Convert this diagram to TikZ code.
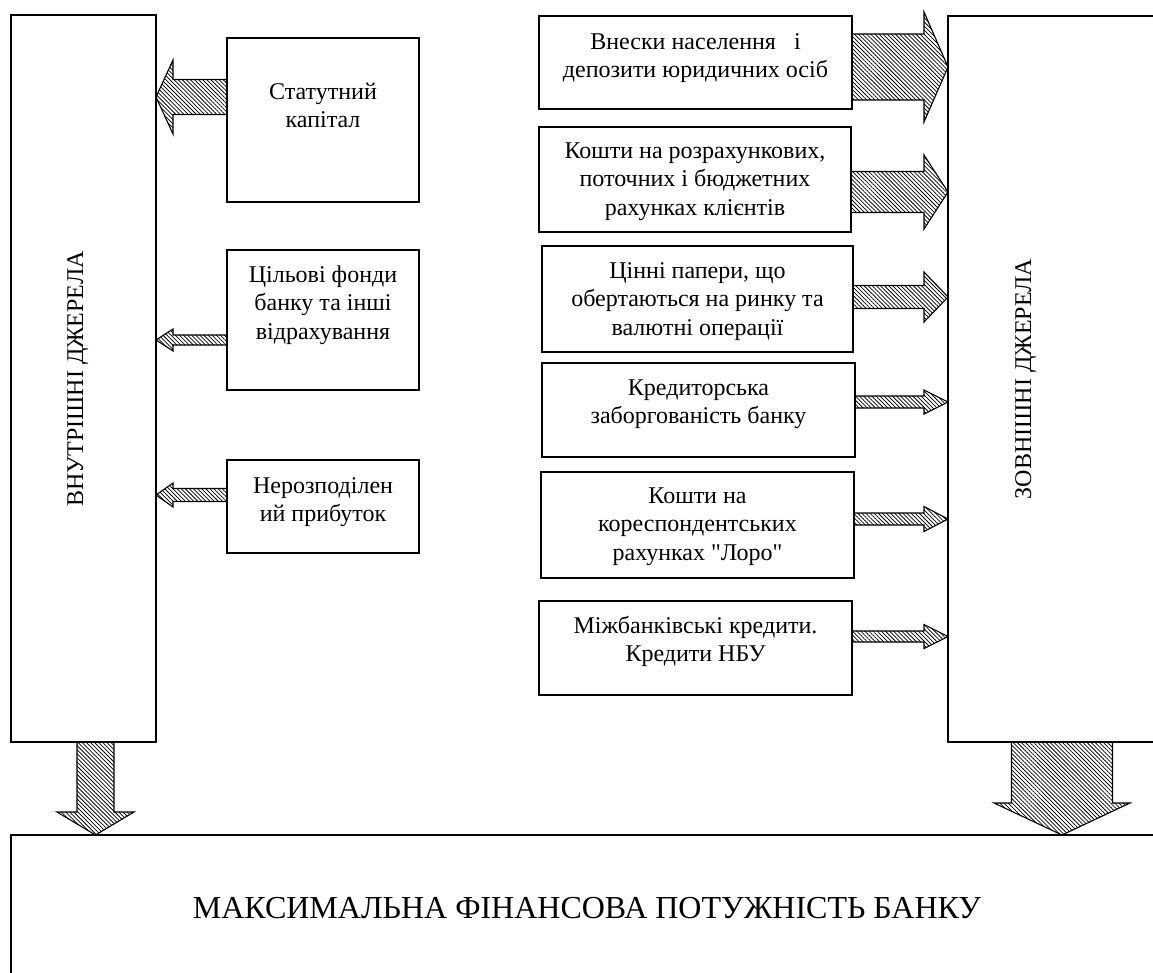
\documentclass[tikz,border=0pt]{standalone}
\usepackage{fontspec}
\setmainfont{Liberation Serif}
% same face without the TeX input mapping, so that " stays a straight quote
\newfontfamily\plainserif{Liberation Serif}
\usetikzlibrary{calc,patterns.meta}

% multi-line centred label whose reference point is the baseline of its first line
\newcommand{\stk}[1]{\begin{tabular}[t]{@{}c@{}}#1\end{tabular}}

\tikzset{
  box/.style={draw, line width=1.5pt, inner sep=0pt, outer sep=0pt, anchor=north west},
  blockarrow/.style={draw, line width=1.1pt, line join=miter, pattern color=black,
    pattern={Lines[angle=-45,distance=2.9pt,line width=0.75pt]}},
  lbl/.style={font=\plainserif\fontsize{24}{28.5}\selectfont, inner sep=0pt, anchor=base},
  title/.style={font=\plainserif\fontsize{32}{38}\selectfont, inner sep=0pt, anchor=base},
}

% hatched block arrows: #1 source node, #2 target node, #3 row/column of the axis,
% #4 shaft half-width, #5 head half-width, #6 head length
\newcommand{\arrowRt}[6]{%
  \draw[blockarrow] let \p1=(#1.east), \p2=(#2.west) in
    (\x1,{-#3pt+#4pt}) -- ({\x2-#6pt},{-#3pt+#4pt}) -- ({\x2-#6pt},{-#3pt+#5pt})
    -- (\x2,{-#3pt}) -- ({\x2-#6pt},{-#3pt-#5pt}) -- ({\x2-#6pt},{-#3pt-#4pt})
    -- (\x1,{-#3pt-#4pt}) -- cycle;}
\newcommand{\arrowLt}[6]{%
  \draw[blockarrow] let \p1=(#1.west), \p2=(#2.east) in
    (\x1,{-#3pt+#4pt}) -- ({\x2+#6pt},{-#3pt+#4pt}) -- ({\x2+#6pt},{-#3pt+#5pt})
    -- (\x2,{-#3pt}) -- ({\x2+#6pt},{-#3pt-#5pt}) -- ({\x2+#6pt},{-#3pt-#4pt})
    -- (\x1,{-#3pt-#4pt}) -- cycle;}
\newcommand{\arrowDn}[6]{%
  \draw[blockarrow] let \p1=(#1.south), \p2=(#2.north) in
    ({#3pt-#4pt},\y1) -- ({#3pt-#4pt},{\y2+#6pt}) -- ({#3pt-#5pt},{\y2+#6pt})
    -- (#3pt,\y2) -- ({#3pt+#5pt},{\y2+#6pt}) -- ({#3pt+#4pt},{\y2+#6pt})
    -- ({#3pt+#4pt},\y1) -- cycle;}

\begin{document}
\begin{tikzpicture}[x=1pt,y=-1pt]
\fill[white] (0,0) rectangle (1153,972);
\useasboundingbox (0,0) rectangle (1153,972);

% main columns and the result box
\node[box, minimum width=145pt, minimum height=727pt] (inner) at (11,15) {};
\node[box, minimum width=222pt, minimum height=726pt] (outer) at (948,16) {};
\node[box, minimum width=1159pt, minimum height=155pt] (total) at (11,835) {};

\node[lbl, rotate=90] (innert) at (83,379) {ВНУТРІШНІ ДЖЕРЕЛА};
\node[lbl, rotate=90] (outert) at (1031,379) {ЗОВНІШНІ ДЖЕРЕЛА};
\node[title] (totalt) at (587,918) {МАКСИМАЛЬНА ФІНАНСОВА ПОТУЖНІСТЬ БАНКУ};

% internal sources
\node[box, minimum width=192pt, minimum height=164pt] (sk) at (227,38) {};
\node[box, minimum width=192pt, minimum height=140pt] (cf) at (227,250) {};
\node[box, minimum width=192pt, minimum height=93pt]  (np) at (227,460) {};
\node[lbl] (skt) at (323,99)  {\stk{Статутний\\капітал}};
\node[lbl] (cft) at (323,282) {\stk{Цільові фонди\\банку та інші\\відрахування}};
\node[lbl] (npt) at (323,493) {\stk{Нерозподілен\\ий прибуток}};

% external sources
\node[box, minimum width=313pt, minimum height=93pt]  (e1) at (539,16) {};
\node[box, minimum width=312pt, minimum height=105pt] (e2) at (539,127) {};
\node[box, minimum width=311pt, minimum height=106pt] (e3) at (542,246) {};
\node[box, minimum width=313pt, minimum height=94pt]  (e4) at (542,363) {};
\node[box, minimum width=313pt, minimum height=106pt] (e5) at (541,472) {};
\node[box, minimum width=313pt, minimum height=94pt]  (e6) at (539,601) {};
\node[lbl] (e1t) at (695.5,49)  {\stk{Внески населення~~~і\\депозити юридичних осіб}};
\node[lbl] (e2t) at (695,158)   {\stk{Кошти на розрахункових,\\поточних і бюджетних\\рахунках клієнтів}};
\node[lbl] (e3t) at (697.5,278) {\stk{Цінні папери, що\\обертаються на ринку та\\валютні операції}};
\node[lbl] (e4t) at (698.5,395) {\stk{Кредиторська\\заборгованість банку}};
\node[lbl] (e5t) at (697.5,503) {\stk{Кошти на\\кореспондентських\\рахунках "Лоро"}};
\node[lbl] (e6t) at (695.5,633) {\stk{Міжбанківські кредити.\\Кредити НБУ}};

% flows into the internal column
\arrowLt{sk}{inner}{97}{17.5}{37}{17}
\arrowLt{cf}{inner}{340}{5}{11}{17}
\arrowLt{np}{inner}{495}{6.5}{12}{17}

% flows into the external column
\arrowRt{e1}{outer}{67}{33}{55}{24}
\arrowRt{e2}{outer}{192}{20.5}{37}{24}
\arrowRt{e3}{outer}{297}{11.5}{25}{24}
\arrowRt{e4}{outer}{402}{6}{12}{24}
\arrowRt{e5}{outer}{519}{6}{12.5}{24}
\arrowRt{e6}{outer}{636.5}{5.5}{12}{24}

% both columns feed the result
\arrowDn{inner}{total}{95.5}{18.5}{38.5}{23}
\arrowDn{outer}{total}{1062}{50.5}{68}{32}
\end{tikzpicture}
\end{document}
